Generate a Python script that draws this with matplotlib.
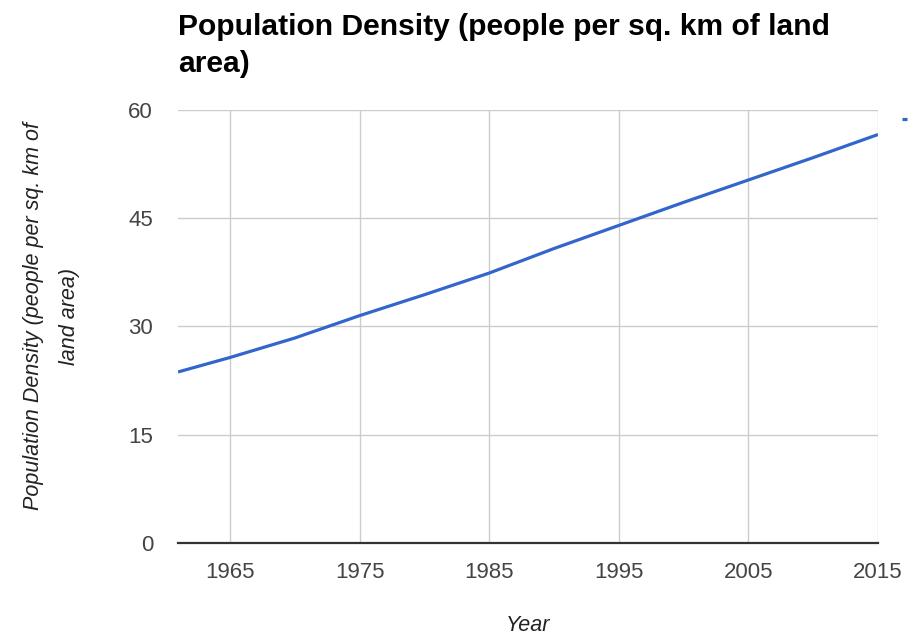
import matplotlib.pyplot as plt

years = [1961, 1965, 1970, 1975, 1980, 1985, 1990, 1995, 2000, 2005, 2010, 2015]
density = [23.7, 25.7, 28.4, 31.5, 34.4, 37.4, 40.8, 44.0, 47.2, 50.3, 53.4, 56.6]
x_ticks = [1965, 1975, 1985, 1995, 2005, 2015]
y_ticks = [0, 15, 30, 45, 60]

plt.rcParams["font.family"] = ["Liberation Sans", "DejaVu Sans"]

fig = plt.figure(figsize=(9.21, 6.38), dpi=100)
ax = fig.add_axes([0.1933, 0.1489, 0.76, 0.6787])

ax.plot(years, density, color="#3366cc", linewidth=2.3, solid_capstyle="butt",
        label=" ", zorder=3)

ax.set_xlim(1961, 2015)
ax.set_ylim(0, 60)
ax.set_xticks(x_ticks)
ax.set_yticks(y_ticks)
ax.grid(True, color="#cccccc", linewidth=1)
ax.set_axisbelow(True)

for side in ["top", "right", "left"]:
    ax.spines[side].set_visible(False)
ax.spines["bottom"].set_color("#333333")
ax.spines["bottom"].set_linewidth(1.6)
ax.spines["bottom"].set_zorder(4)

ax.tick_params(length=0, labelsize=16, labelcolor="#444444")
ax.tick_params(axis="x", pad=14)
ax.tick_params(axis="y", pad=18)

ax.set_xlabel("Year", fontsize=15.5, style="italic", color="#222222")
ax.xaxis.label.set_va("baseline")
ax.xaxis.set_label_coords(0.5, -0.204)

ax.set_ylabel("Population Density (people per sq. km of\nland area)", fontsize=15.5,
              style="italic", color="#222222", linespacing=1.9)
ax.yaxis.label.set_va("center")
ax.yaxis.set_label_coords(-0.181, 0.524)

# baseline of the second title line
fig.text(0.1933, 0.887, "Population Density (people per sq. km of land\narea)",
         fontsize=21.6, fontweight="bold", ha="left", va="baseline", linespacing=1.42)

# series key at the right edge, only its swatch fits on the canvas
ax.legend(loc="upper left", bbox_to_anchor=(0.979, 0.826), bbox_transform=fig.transFigure,
          frameon=False, handlelength=0.25, fontsize=14.5, borderpad=0, borderaxespad=0)

fig.savefig("out.png", dpi=100)
